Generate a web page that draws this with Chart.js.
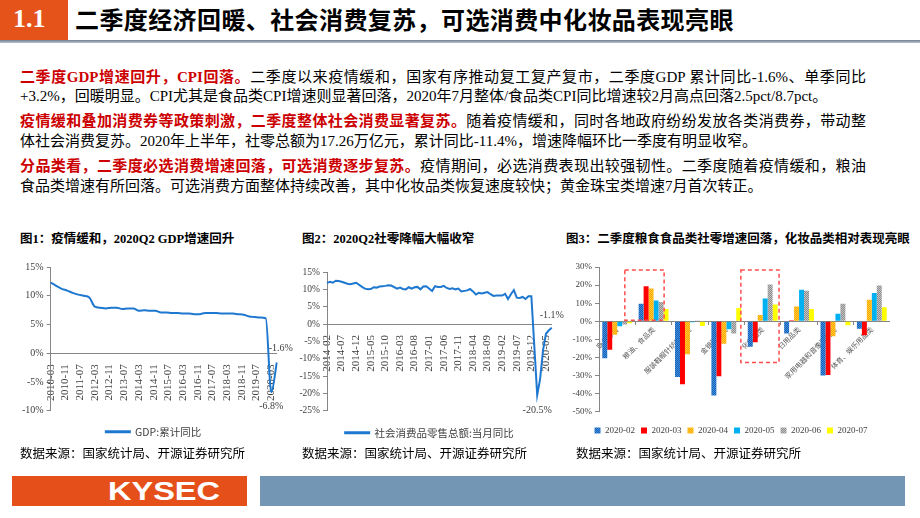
<!DOCTYPE html>
<html>
<head>
<meta charset="utf-8">
<script src="https://cdn.jsdelivr.net/npm/chart.js@4.4.0/dist/chart.umd.min.js"></script>
<style>
  body { margin:0; width:920px; height:518px; position:relative; overflow:hidden; background:#fff;
         font-family:"Liberation Serif","Noto Sans CJK SC",serif; color:#000; }
  .abs { position:absolute; }
  .num { left:0; top:0; width:68px; height:40px; background:#e5531a; }
  .num span { position:absolute; left:13px; top:4px; color:#fff; font:bold 26px "Liberation Serif"; }
  .title { left:75px; top:3px; font:bold 24px "Noto Sans CJK SC"; line-height:32px; letter-spacing:0.4px; }
  .rule { left:0; top:40px; width:920px; height:3px; background:linear-gradient(#6f8091,#b9c3cc); }
  .ln { left:20px; width:846px; white-space:nowrap; font-size:15px; line-height:20px; }
  .j { text-align:justify; text-align-last:justify; }
  .r { color:#cc0000; font-weight:bold; }
  .ct { font-size:12.5px; font-weight:bold; white-space:nowrap; }
  .src { font-family:"Noto Sans CJK SC"; font-size:12.5px; white-space:nowrap; }
  .foot1 { left:12px; top:476px; width:235px; height:30px; background:#e5501a; }
  .foot1 span { position:absolute; left:96px; top:0; color:#fff; font:bold 25px "Liberation Sans"; line-height:30px;
                transform:scaleX(1.3); transform-origin:left center; }
  .foot2 { left:260px; top:476px; width:645px; height:30px; background:#7396b4; }
</style>
</head>
<body>
<div class="abs num"><span>1.1</span></div>
<div class="abs title">二季度经济回暖、社会消费复苏，可选消费中化妆品表现亮眼</div>
<div class="abs rule"></div>

<div class="abs ln j" style="top:67px"><span class="r">二季度GDP增速回升，CPI回落。</span>二季度以来疫情缓和，国家有序推动复工复产复市，二季度GDP 累计同比-1.6%、单季同比</div>
<div class="abs ln" style="top:86px">+3.2%，回暖明显。CPI尤其是食品类CPI增速则显著回落，2020年7月整体/食品类CPI同比增速较2月高点回落2.5pct/8.7pct。</div>
<div class="abs ln j" style="top:111px"><span class="r">疫情缓和叠加消费券等政策刺激，二季度整体社会消费显著复苏。</span>随着疫情缓和，同时各地政府纷纷发放各类消费券，带动整</div>
<div class="abs ln" style="top:131px">体社会消费复苏。2020年上半年，社零总额为17.26万亿元，累计同比-11.4%，增速降幅环比一季度有明显收窄。</div>
<div class="abs ln j" style="top:156px"><span class="r">分品类看，二季度必选消费增速回落，可选消费逐步复苏。</span>疫情期间，必选消费表现出较强韧性。二季度随着疫情缓和，粮油</div>
<div class="abs ln" style="top:176px">食品类增速有所回落。可选消费方面整体持续改善，其中化妆品类恢复速度较快；黄金珠宝类增速7月首次转正。</div>

<div class="abs ct" style="left:20px;top:228px">图1：疫情缓和，2020Q2 GDP增速回升</div>
<div class="abs ct" style="left:302px;top:228px">图2：2020Q2社零降幅大幅收窄</div>
<div class="abs ct" style="left:566px;top:228px">图3：二季度粮食食品类社零增速回落，化妆品类相对表现亮眼</div>

<canvas id="c1" class="abs" width="289" height="190" style="left:4px;top:257px"></canvas>
<canvas id="c2" class="abs" width="283" height="186" style="left:285px;top:262px"></canvas>
<canvas id="c3" class="abs" width="345" height="188" style="left:545px;top:257px"></canvas>

<div class="abs src" style="left:20px;top:443px">数据来源：国家统计局、开源证券研究所</div>
<div class="abs src" style="left:302px;top:443px">数据来源：国家统计局、开源证券研究所</div>
<div class="abs src" style="left:576px;top:443px">数据来源：国家统计局、开源证券研究所</div>

<div class="abs foot1"><span>KYSEC</span></div>
<div class="abs foot2"></div>

<script>
// 图1：GDP累计同比（季度，2010Q1 ~ 2020Q2）
var gdpStart = [2010, 3];
var gdpEnd = [2020, 6];
var gdpValues = [
  12.3, 11.7, 11.2, 10.9,
  10.5, 10.2, 10.0, 9.7,
  8.1, 7.9, 7.8, 7.9,
  7.9, 7.7, 7.8, 7.8,
  7.4, 7.5, 7.4, 7.4,
  7.1, 7.1, 7.0, 7.0,
  6.9, 6.9, 6.8, 6.8,
  7.0, 7.0, 7.0, 6.9,
  6.9, 6.9, 6.8, 6.7,
  6.4, 6.3, 6.2, 6.1,
  -6.8, -1.6
];
var gdpTickLabels = ['2010-03','2010-11','2011-07','2012-03','2012-11','2013-07','2014-03','2014-11',
  '2015-07','2016-03','2016-11','2017-07','2018-03','2018-11','2019-07','2020-03'];

// 图2：社会消费品零售总额:当月同比（2014-02 ~ 2020-07，1月无数据）
var retailStart = [2014, 2];
var retailEnd = [2020, 7];
var retailValues = [
  11.8, 12.2, 11.9, 12.5, 12.4, 12.2, 11.9, 11.6, 11.5, 11.7, 11.9,
  null, 10.7, 10.2, 10.0, 10.1, 10.6, 10.5, 10.8, 10.9, 11.0, 11.2, 11.1,
  null, 10.2, 10.5, 10.1, 10.0, 10.6, 10.2, 10.6, 10.7, 10.0, 10.8, 10.9,
  null, 9.5, 10.9, 10.7, 10.7, 11.0, 10.4, 10.1, 10.3, 10.0, 10.2, 9.4,
  null, 9.7, 10.1, 9.4, 8.5, 9.0, 8.8, 9.0, 9.2, 8.6, 8.1, 8.2,
  null, 8.2, 8.7, 7.2, 8.6, 9.8, 7.6, 7.5, 7.8, 7.2, 8.0, 8.0,
  null, -20.5, -15.8, -7.5, -2.8, -1.8, -1.1
];
var retailTickLabels = ['2014-02','2014-07','2014-12','2015-05','2015-10','2016-03','2016-08','2017-01',
  '2017-06','2017-11','2018-04','2018-09','2019-02','2019-07','2019-12','2020-05'];

// 图3：分品类社零当月同比
var categories = ['商品零售','粮油、食品类','服装鞋帽针纺织品类','金银珠宝类','化妆品类','日用品类','家用电器和音像器材类','体育、娱乐用品类'];
var months = ['2020-02','2020-03','2020-04','2020-05','2020-06','2020-07'];
var v202002 = [-20.5, 9.7, -30.9, -41.1, -14.1, -6.8, -30.0, -4.2];
var v202003 = [-15.8, 19.4, -34.8, -30.4, -11.7, 0.5, -29.8, -7.7];
var v202004 = [-7.5, 18.1, -18.3, -12.5, 3.4, 8.2, -8.3, 11.9];
var v202005 = [-2.8, 11.5, -0.6, -4.4, 12.6, 17.4, 4.2, 15.6];
var v202006 = [-1.8, 10.6, 0.4, -6.8, 20.3, 16.8, 9.7, 19.8];
var v202007 = [-1.1, 6.8, -2.6, 7.3, 9.2, 6.8, -2.2, 7.7];
// 红色虚线框（类目序号 / 百分比）
var highlightBoxes = [
  {from: 0.21, to: 1.29, top: 28.4, bottom: 0.5},
  {from: 3.40, to: 4.45, top: 28.4, bottom: -22.9}
];

Chart.defaults.font.family = '"Liberation Serif", "Noto Sans CJK SC", serif';
Chart.defaults.color = '#404040';
Chart.defaults.animation = false;

var axisGray = '#868686';
var lineBlue = '#1f78cf';

// 月份轴
function monthAxis(start, end) {
  var out = [];
  var y = start[0], m = start[1];
  while (y < end[0] || (y === end[0] && m <= end[1])) {
    out.push(y + '-' + (m < 10 ? '0' + m : m));
    m++;
    if (m > 12) { m = 1; y++; }
  }
  return out;
}

var gdpMonths = monthAxis(gdpStart, gdpEnd);
var gdpSeries = gdpMonths.map(function(l, i){ return i % 3 === 0 ? gdpValues[i / 3] : null; });
var retailMonths = monthAxis(retailStart, retailEnd);

// 数据标注
var pointLabels = {
  id: 'pointLabels',
  afterDatasetsDraw: function(chart, args, opts) {
    var ctx = chart.ctx;
    var meta = chart.getDatasetMeta(0);
    var data = chart.data.datasets[0].data;
    ctx.save();
    ctx.font = '10px "Liberation Serif"';
    ctx.fillStyle = '#404040';
    ctx.textAlign = 'center';
    ctx.textBaseline = 'middle';
    opts.items.forEach(function(it){
      var el = meta.data[it.index];
      ctx.fillText(data[it.index].toFixed(1) + '%', el.x + it.dx, el.y + it.dy);
    });
    ctx.restore();
  }
};

function yAxis(min, max, step, size, width) {
  return {
    min: min, max: max,
    ticks: { stepSize: step, padding: 3, font: { size: size }, callback: function(v){ return v + '%'; } },
    grid: { drawOnChartArea: false, tickLength: 4, color: axisGray },
    border: { color: axisGray },
    afterFit: function(s){ s.width = width; }
  };
}

function lineXAxis(tickLabels) {
  return {
    position: { y: 0 },
    grid: { display: false },
    border: { color: axisGray },
    ticks: {
      autoSkip: false, minRotation: 90, maxRotation: 90, padding: 3, font: { size: 11 },
      callback: function(v){ var l = this.getLabelForValue(v); return tickLabels.indexOf(l) >= 0 ? l : ''; }
    }
  };
}

function lineLegend(pad) {
  return {
    position: 'bottom',
    labels: { boxWidth: 24, boxHeight: 1, padding: pad, color: '#404040',
              font: { family: '"Noto Sans CJK SC"', size: 10.5 } }
  };
}

var minGdp = gdpSeries.indexOf(Math.min.apply(null, gdpValues));
new Chart(document.getElementById('c1'), {
  type: 'line',
  data: {
    labels: gdpMonths,
    datasets: [{
      label: 'GDP:累计同比',
      data: gdpSeries,
      borderColor: lineBlue, backgroundColor: lineBlue,
      borderWidth: 2, pointRadius: 0, spanGaps: true, cubicInterpolationMode: 'monotone'
    }]
  },
  options: {
    responsive: false,
    layout: { padding: { left: 10, top: 10, right: 0, bottom: 0 } },
    scales: { x: lineXAxis(gdpTickLabels), y: yAxis(-10, 15, 5, 10, 36.7) },
    plugins: {
      legend: lineLegend(15.75),
      tooltip: { enabled: false },
      pointLabels: { items: [ { index: gdpSeries.length - 1, dx: 4, dy: -14 }, { index: minGdp, dx: 0, dy: 14 } ] }
    }
  },
  plugins: [pointLabels]
});

var minRetail = retailValues.indexOf(Math.min.apply(null, retailValues.filter(function(v){ return v !== null; })));
new Chart(document.getElementById('c2'), {
  type: 'line',
  data: {
    labels: retailMonths,
    datasets: [{
      label: '社会消费品零售总额:当月同比',
      data: retailValues,
      borderColor: lineBlue, backgroundColor: lineBlue,
      borderWidth: 2, pointRadius: 0, spanGaps: true, tension: 0
    }]
  },
  options: {
    responsive: false,
    layout: { padding: { left: 6, top: 10, right: 0, bottom: 0 } },
    scales: { x: lineXAxis(retailTickLabels), y: yAxis(-25, 15, 5, 9.5, 36) },
    plugins: {
      legend: lineLegend(16.75),
      tooltip: { enabled: false },
      pointLabels: { items: [ { index: retailValues.length - 1, dx: 0, dy: -12 }, { index: minRetail, dx: 0, dy: 15 } ] }
    }
  },
  plugins: [pointLabels]
});

// 柱子纹理
function dither(a, b) {
  var c = document.createElement('canvas');
  c.width = 2; c.height = 2;
  var g = c.getContext('2d');
  g.fillStyle = a; g.fillRect(0, 0, 2, 2);
  g.fillStyle = b; g.fillRect(0, 0, 1, 1); g.fillRect(1, 1, 1, 1);
  return g.createPattern(c, 'repeat');
}

var barFills = [
  dither('#1a5fb4', '#3d8fe0'),
  '#ff0000',
  dither('#ffa500', '#ffcc33'),
  '#00b0f0',
  dither('#8c8c8c', '#c4c4c4'),
  '#ffff00'
];
var barSeries = [v202002, v202003, v202004, v202005, v202006, v202007];

var dashBoxes = {
  id: 'dashBoxes',
  afterDatasetsDraw: function(chart) {
    var ctx = chart.ctx, x = chart.scales.x, y = chart.scales.y;
    ctx.save();
    ctx.strokeStyle = '#ff4d4d';
    ctx.lineWidth = 1.5;
    ctx.setLineDash([4, 3]);
    highlightBoxes.forEach(function(b){
      var x0 = x.getPixelForValue(b.from), x1 = x.getPixelForValue(b.to);
      var y0 = y.getPixelForValue(b.top), y1 = y.getPixelForValue(b.bottom);
      ctx.strokeRect(x0, y0, x1 - x0, y1 - y0);
    });
    ctx.restore();
  }
};

new Chart(document.getElementById('c3'), {
  type: 'bar',
  data: {
    labels: categories,
    datasets: barSeries.map(function(d, i){
      return { label: months[i], data: d, backgroundColor: barFills[i], borderWidth: 0,
               barPercentage: 1, categoryPercentage: 0.82 };
    })
  },
  options: {
    responsive: false,
    layout: { padding: { left: 27, top: 10, right: 0, bottom: 0 } },
    scales: {
      x: {
        position: { y: 0 },
        grid: { drawOnChartArea: false, tickLength: 3, offset: true, color: axisGray },
        border: { color: axisGray },
        ticks: { autoSkip: false, minRotation: 45, maxRotation: 45, padding: 1, color: '#595959',
                 font: { family: '"Noto Sans CJK SC"', size: 7 } }
      },
      y: yAxis(-50, 30, 10, 9, 27)
    },
    plugins: {
      legend: {
        position: 'bottom',
        title: { display: true, text: ' ', padding: 0, font: { size: 7 } },
        labels: { boxWidth: 6, boxHeight: 6, padding: 6, color: '#404040', font: { size: 9 } }
      },
      tooltip: { enabled: false }
    }
  },
  plugins: [dashBoxes]
});
</script>
</body>
</html>
